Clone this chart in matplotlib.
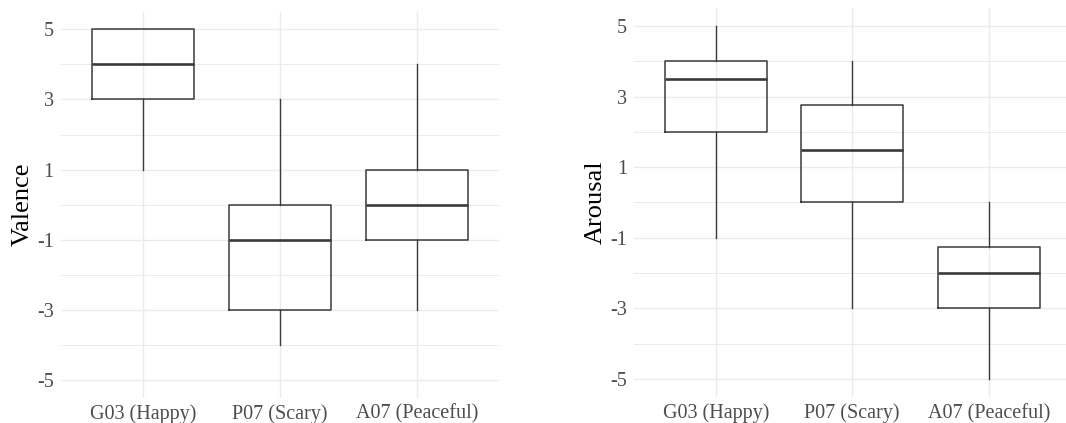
import numpy as np
import matplotlib
matplotlib.use("Agg")
import matplotlib.pyplot as plt

plt.rcParams['font.family'] = ['Liberation Serif', 'DejaVu Serif']

# box statistics
categories = ["G03 (Happy)", "P07 (Scary)", "A07 (Peaceful)"]

valence_low = [1, -4, -3]
valence_q1 = [3, -3, -1]
valence_med = [4, -1, 0]
valence_q3 = [5, 0, 1]
valence_high = [5, 3, 4]

arousal_low = [-1, -3, -5]
arousal_q1 = [2, 0, -3]
arousal_med = [3.5, 1.5, -2]
arousal_q3 = [4, 2.75, -1.25]
arousal_high = [5, 4, 0]

y_ticks = [-5, -3, -1, 1, 3, 5]
y_minor = [-4, -2, 0, 2, 4]

box_col = '#3a3a3a'
grid_col = '#EBEBEB'


def make_stats(low, q1, med, q3, high):
    out = []
    for lo, a, m, b, hi in zip(low, q1, med, q3, high):
        out.append(dict(whislo=lo, q1=a, med=m, q3=b, whishi=hi, fliers=[]))
    return out


def draw(ax, stats, ylabel):
    pos = np.arange(1, len(categories) + 1)
    ax.bxp(stats, positions=pos, widths=0.75, showcaps=False, showfliers=False,
           patch_artist=False,
           boxprops=dict(color=box_col, linewidth=1.1),
           whiskerprops=dict(color=box_col, linewidth=1.0),
           medianprops=dict(color=box_col, linewidth=1.9),
           zorder=3)
    ax.set_xlim(0.4, 3.6)
    ax.set_ylim(-5.5, 5.5)
    ax.set_yticks(y_ticks)
    ax.set_yticklabels([str(t) for t in y_ticks])  # plain hyphen like the original
    ax.set_yticks(y_minor, minor=True)
    ax.set_xticks(pos)
    ax.set_xticklabels(categories)
    ax.grid(True, which='major', color=grid_col, linewidth=1.0, zorder=0)
    ax.grid(True, which='minor', axis='y', color=grid_col, linewidth=0.7, zorder=0)
    ax.set_axisbelow(True)
    for s in ax.spines.values():
        s.set_visible(False)
    ax.tick_params(which='both', length=0, labelsize=14.5, labelcolor='#4D4D4D')
    ax.tick_params(axis='x', pad=5)
    ax.tick_params(axis='y', pad=5)
    ax.set_ylabel(ylabel, fontsize=19, color='black', labelpad=2)


fig = plt.figure(figsize=(10.66, 4.23), dpi=100)
ax1 = fig.add_axes([60.7 / 1066, 1 - 397.5 / 423, 438.6 / 1066, 385.7 / 423])
ax2 = fig.add_axes([633.8 / 1066, 1 - 396.7 / 423, 436.8 / 1066, 388.4 / 423])

draw(ax1, make_stats(valence_low, valence_q1, valence_med, valence_q3, valence_high), "Valence")
draw(ax2, make_stats(arousal_low, arousal_q1, arousal_med, arousal_q3, arousal_high), "Arousal")

fig.savefig("out.png", dpi=100, facecolor='white')
